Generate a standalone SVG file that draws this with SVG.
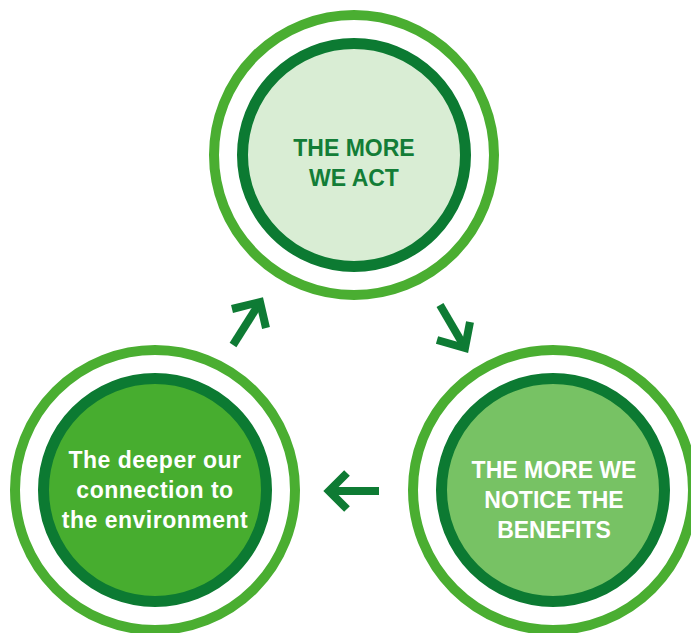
<svg xmlns="http://www.w3.org/2000/svg" width="691" height="633" viewBox="0 0 691 633">
<style>
.outer{fill:none;stroke:#4aae31;stroke-width:10}
.inner{stroke:#0c7a32;stroke-width:11}
.lbl{font-family:"Liberation Sans",Arial,sans-serif;font-weight:bold;font-size:23px;text-anchor:middle}
.arr{fill:none;stroke:#0e7b34;stroke-width:8;stroke-linejoin:miter;stroke-linecap:butt}
</style>
<rect width="691" height="633" fill="#ffffff"/>
<g id="node-act">
<circle class="outer" cx="354" cy="155" r="140"/>
<circle class="inner" cx="354" cy="155" r="111.5" fill="#d9edd4"/>
<text class="lbl" fill="#137d37" x="354" y="156">THE MORE</text>
<text class="lbl" fill="#137d37" x="354" y="186">WE ACT</text>
</g>
<g id="node-connection">
<circle class="outer" cx="155" cy="490" r="140"/>
<circle class="inner" cx="155" cy="490" r="111.5" fill="#47ad2f"/>
<text class="lbl" fill="#ffffff" x="155" y="468" style="letter-spacing:0.5px">The deeper our</text>
<text class="lbl" fill="#ffffff" x="155" y="498" style="letter-spacing:0.5px">connection to</text>
<text class="lbl" fill="#ffffff" x="155" y="528" style="letter-spacing:0.5px">the environment</text>
</g>
<g id="node-benefits">
<circle class="outer" cx="553" cy="490" r="140"/>
<circle class="inner" cx="553" cy="490" r="111.5" fill="#77c264"/>
<text class="lbl" fill="#ffffff" x="554" y="478">THE MORE WE</text>
<text class="lbl" fill="#ffffff" x="554" y="508">NOTICE THE</text>
<text class="lbl" fill="#ffffff" x="554" y="538">BENEFITS</text>
</g>
<g id="connectors">
<path class="arr" d="M233,345 L259,304"/>
<path class="arr" d="M232,309 L260,302 L266,328"/>
<path class="arr" d="M440,305 L464,346"/>
<path class="arr" d="M437,340 L465,348 L470,322"/>
<path class="arr" d="M379,491 L330,491"/>
<path class="arr" d="M347,473 L329,491 L347,509"/>
</g>
</svg>
